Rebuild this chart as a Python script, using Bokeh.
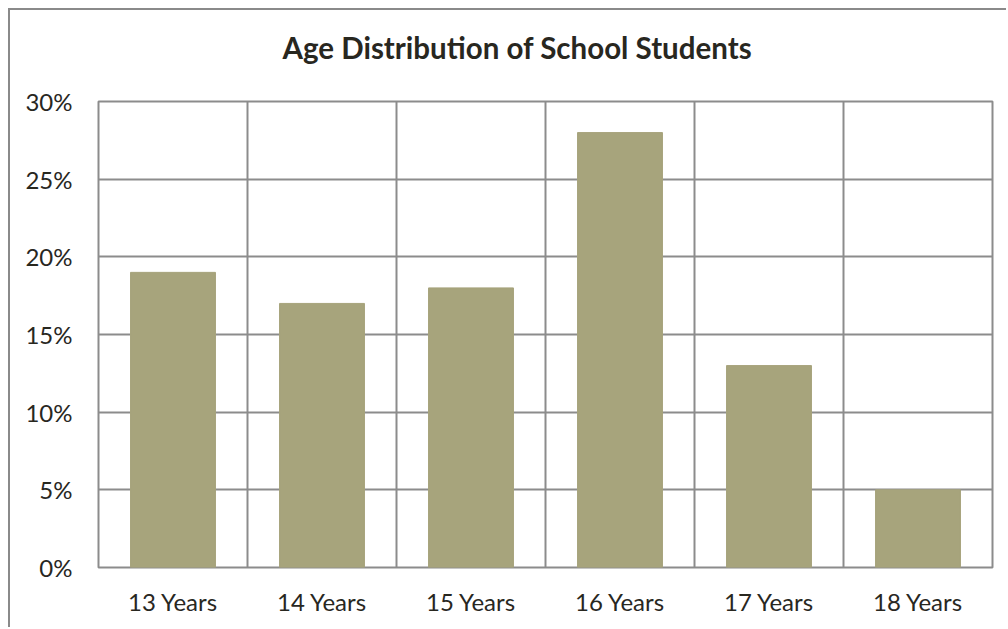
from bokeh.plotting import figure
from bokeh.models import FixedTicker, NumeralTickFormatter, Range1d, ColumnDataSource, Title
from bokeh.embed import file_html
from bokeh.resources import INLINE

title_text = "Age Distribution of School Students"
categories = ["13 Years", "14 Years", "15 Years", "16 Years", "17 Years", "18 Years"]
shares = [0.19, 0.17, 0.18, 0.28, 0.13, 0.05]
y_ticks = [0.0, 0.05, 0.10, 0.15, 0.20, 0.25, 0.30]

xpos = [i + 0.5 for i in range(len(categories))]
src = ColumnDataSource(dict(x=xpos, top=shares))

p = figure(width=998, height=619, output_backend="svg", toolbar_location=None,
           x_range=Range1d(0, len(categories)), y_range=Range1d(0, 0.30),
           min_border_left=88, min_border_right=16, min_border_top=91, min_border_bottom=62)
p.styles = {"border-left": "2px solid #8a8a8a", "border-top": "2px solid #8a8a8a",
            "margin-left": "8px", "margin-top": "8px"}

spacer = Title(text=" ", text_font_size="1px", standoff=16)
p.add_layout(spacer, "above")
main_title = Title(text=title_text, align="left", offset=184, standoff=35,
                   text_font="Lato", text_font_size="29.5px", text_font_style="bold",
                   text_color="#28271f")
p.add_layout(main_title, "above")

p.vbar(x="x", top="top", width=0.57, source=src, fill_color="#A7A47C", line_color="#A7A47C")

p.outline_line_color = "#8c8c8c"
p.outline_line_width = 2

p.xaxis.ticker = FixedTicker(ticks=xpos)
p.xaxis.major_label_overrides = {x: c for x, c in zip(xpos, categories)}
p.xgrid.ticker = FixedTicker(ticks=list(range(len(categories) + 1)))
p.yaxis.ticker = FixedTicker(ticks=y_ticks)
p.yaxis.formatter = NumeralTickFormatter(format="0%")

for g in (p.xgrid, p.ygrid):
    g.grid_line_color = "#8c8c8c"
    g.grid_line_width = 2

for ax in (p.xaxis, p.yaxis):
    ax.axis_line_color = None
    ax.major_tick_line_color = None
    ax.minor_tick_line_color = None
    ax.major_label_text_font = "Lato"
    ax.major_label_text_font_size = "24px"
    ax.major_label_text_color = "#28271f"
p.xaxis.major_label_standoff = 13
p.yaxis.major_label_standoff = 20

open("out.html", "w").write(file_html(p, INLINE))
